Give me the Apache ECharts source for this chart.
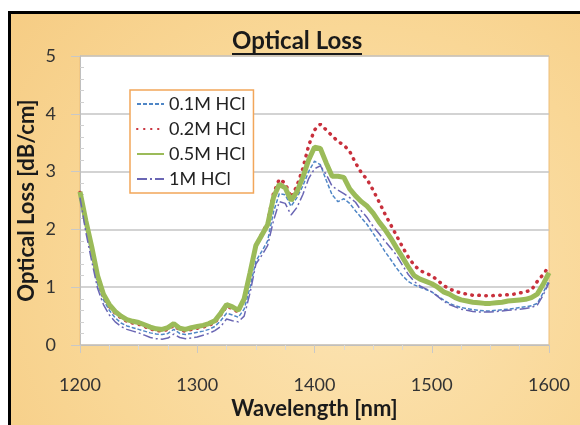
<!DOCTYPE html>
<html><head><meta charset="utf-8">
<script src="https://cdn.jsdelivr.net/npm/echarts@6/dist/echarts.min.js"></script>
<style>
html,body{margin:0;padding:0;background:#fff;}
#bg{position:absolute;left:8px;top:11px;width:700px;height:600px;border:3px solid #000;box-sizing:border-box;
background:radial-gradient(ellipse at 50% 45%, #FCE4B4 0%, #F9D796 55%, #F5CA80 100%);}
#chart{position:absolute;left:0;top:0;width:580px;height:425px;}
#wrap{position:relative;width:580px;height:425px;overflow:hidden;}
</style></head>
<body>
<div id="wrap"><div id="bg"></div><div id="chart"></div></div>
<script>
const wavelengths = [1200,1205,1210,1215,1220,1225,1230,1235,1240,1245,1250,1255,1260,1265,1270,1275,1280,1285,1290,1295,
1300,1305,1310,1315,1320,1325,1330,1335,1340,1345,1350,1355,1360,1365,1370,1375,1380,1385,1390,1395,
1400,1405,1410,1415,1420,1425,1430,1435,1440,1445,1450,1455,1460,1465,1470,1475,1480,1485,1490,1495,
1500,1505,1510,1515,1520,1525,1530,1535,1540,1545,1550,1555,1560,1565,1570,1575,1580,1585,1590,1595,1600];

const hcl01 = [2.62,2.05,1.55,1.05,0.78,0.60,0.47,0.38,0.33,0.30,0.27,0.24,0.21,0.19,0.18,0.20,0.27,0.20,0.18,0.20,
0.22,0.24,0.27,0.32,0.42,0.55,0.52,0.48,0.62,1.00,1.45,1.62,1.80,2.30,2.62,2.60,2.40,2.55,2.75,3.00,
3.18,3.12,2.85,2.60,2.48,2.53,2.45,2.32,2.20,2.08,1.93,1.78,1.62,1.48,1.33,1.20,1.10,1.04,1.00,0.96,
0.92,0.85,0.78,0.72,0.68,0.65,0.63,0.61,0.60,0.59,0.59,0.60,0.61,0.62,0.63,0.65,0.66,0.68,0.72,0.90,1.12];

const hcl02 = [2.64,2.12,1.66,1.16,0.85,0.67,0.55,0.47,0.41,0.38,0.36,0.32,0.28,0.25,0.24,0.27,0.34,0.26,0.24,0.27,
0.29,0.31,0.34,0.39,0.52,0.67,0.63,0.57,0.78,1.25,1.72,1.92,2.12,2.62,2.87,2.80,2.55,2.75,3.05,3.45,
3.72,3.82,3.72,3.62,3.52,3.46,3.35,3.15,2.98,2.86,2.68,2.48,2.27,2.08,1.89,1.70,1.52,1.38,1.29,1.24,
1.20,1.12,1.03,0.97,0.93,0.90,0.88,0.86,0.86,0.85,0.85,0.86,0.86,0.87,0.88,0.90,0.92,0.95,1.10,1.22,1.36];

const hcl05 = [2.65,2.15,1.70,1.20,0.88,0.70,0.58,0.50,0.44,0.41,0.39,0.35,0.31,0.28,0.27,0.30,0.37,0.29,0.27,0.30,
0.32,0.34,0.37,0.42,0.55,0.70,0.66,0.60,0.80,1.25,1.72,1.90,2.08,2.55,2.78,2.72,2.50,2.65,2.90,3.20,
3.42,3.40,3.15,2.92,2.92,2.90,2.70,2.58,2.48,2.40,2.28,2.13,2.00,1.85,1.68,1.52,1.35,1.20,1.14,1.10,
1.06,1.00,0.92,0.88,0.82,0.78,0.76,0.74,0.73,0.72,0.72,0.73,0.74,0.76,0.77,0.78,0.79,0.82,0.88,1.05,1.25];

const hcl1 = [2.55,1.95,1.45,0.98,0.70,0.52,0.40,0.32,0.27,0.24,0.21,0.17,0.13,0.11,0.10,0.12,0.19,0.13,0.11,0.12,
0.14,0.17,0.20,0.25,0.32,0.45,0.42,0.40,0.50,0.90,1.40,1.55,1.72,2.15,2.48,2.45,2.25,2.38,2.60,2.88,
3.05,3.10,2.95,2.75,2.68,2.62,2.55,2.47,2.32,2.20,2.05,1.93,1.80,1.68,1.55,1.38,1.22,1.10,1.02,0.97,
0.92,0.84,0.76,0.70,0.66,0.62,0.60,0.58,0.57,0.57,0.57,0.58,0.59,0.60,0.61,0.62,0.63,0.65,0.69,0.86,1.08];

const seriesNames = ['0.1M HCl','0.2M HCl','0.5M HCl','1M HCl'];
const xTicks = [1200,1300,1400,1500,1600];
const yTicks = [0,1,2,3,4,5];

const pairs = v => wavelengths.map((w,i)=>[w,v[i]]);
const FONT = 'Lato';
const chart = echarts.init(document.getElementById('chart'), null, {renderer:'canvas'});
chart.setOption({
  backgroundColor: 'transparent',
  animation: false,
  title: {
    text: 'Optical Loss', left: 232, top: 29, padding: 0,
    textStyle: {fontFamily: FONT, fontWeight: 'bold', fontSize: 24, color: '#1a1a1a'}
  },
  graphic: [{type:'rect', shape:{x:232, y:53, width:130, height:2}, style:{fill:'#1a1a1a'}, silent:true}],
  grid: {left: 80, right: 31, top: 56, bottom: 78, show: true, backgroundColor: '#ffffff', borderColor: '#EDBE7A', borderWidth: 1},
  legend: {
    orient: 'vertical', left: 130, top: 90,
    data: seriesNames,
    backgroundColor: '#ffffff', borderColor: '#F2A65A', borderWidth: 1.5,
    padding: [5, 8, 5, 6], itemWidth: 27, itemHeight: 10, itemGap: 7,
    itemStyle: {opacity: 0, borderWidth: 0},
    textStyle: {fontFamily: FONT, fontSize: 18, color: '#222'}
  },
  xAxis: {
    type: 'value', min: xTicks[0], max: xTicks[xTicks.length-1], interval: 100,
    name: 'Wavelength [nm]', nameLocation: 'middle', nameGap: 53, nameMoveOverlap: false,
    nameTextStyle: {fontFamily: FONT, fontWeight: 'bold', fontSize: 22, color: '#1a1a1a'},
    axisLine: {show: true, lineStyle: {color: '#BFBFBF', width: 1}},
    axisTick: {show: true, length: 8, lineStyle: {color: '#C8C8C8'}},
    minorTick: {show: true, splitNumber: 4, length: 5, lineStyle: {color: '#D8D8D8'}},
    axisLabel: {margin: 31, fontFamily: FONT, fontSize: 18, color: '#333', formatter: v => String(v)},
    splitLine: {show: false}
  },
  yAxis: [{
    type: 'value', min: yTicks[0], max: yTicks[yTicks.length-1], interval: 1,
    name: 'Optical Loss [dB/cm]', nameLocation: 'middle', nameGap: 42, nameMoveOverlap: false,
    nameTextStyle: {fontFamily: FONT, fontWeight: 'bold', fontSize: 22, color: '#1a1a1a'},
    axisLine: {show: true, lineStyle: {color: '#BFBFBF', width: 1}},
    axisTick: {show: true, length: 9, lineStyle: {color: '#C8C8C8'}},
    axisLabel: {margin: 24, fontFamily: FONT, fontSize: 18, color: '#333'},
    splitLine: {show: true, lineStyle: {color: '#C4C4C4', width: 1.5}}
  },{
    type: 'value', min: yTicks[0], max: yTicks[yTicks.length-1], interval: 1, position: 'left',
    axisLine: {show: false}, axisLabel: {show: false}, splitLine: {show: false},
    axisTick: {show: false, inside: true},
    minorTick: {show: true, splitNumber: 5, length: 4, lineStyle: {color: '#D0D0D0'}}
  }],
  series: [
    {name: seriesNames[0], type: 'line', data: pairs(hcl01), symbol: 'none', z: 2,
     lineStyle: {color: '#4F86C6', width: 1.5, type: [4, 2]}, itemStyle: {color: '#4F86C6'}},
    {name: seriesNames[1], type: 'line', data: pairs(hcl02), symbol: 'none', z: 3,
     lineStyle: {color: '#C8303C', width: 3.5, type: [0.5, 6.5], cap: 'round'}, itemStyle: {color: '#C8303C'}},
    {name: seriesNames[2], type: 'line', data: pairs(hcl05), symbol: 'none', z: 4,
     lineStyle: {color: '#9BBB59', width: 5}, itemStyle: {color: '#9BBB59'}},
    {name: seriesNames[3], type: 'line', data: pairs(hcl1), symbol: 'none', z: 5,
     lineStyle: {color: '#6A66B4', width: 1.5, type: [10, 3, 2, 3]}, itemStyle: {color: '#6A66B4'}}
  ]
});
</script>
</body></html>
